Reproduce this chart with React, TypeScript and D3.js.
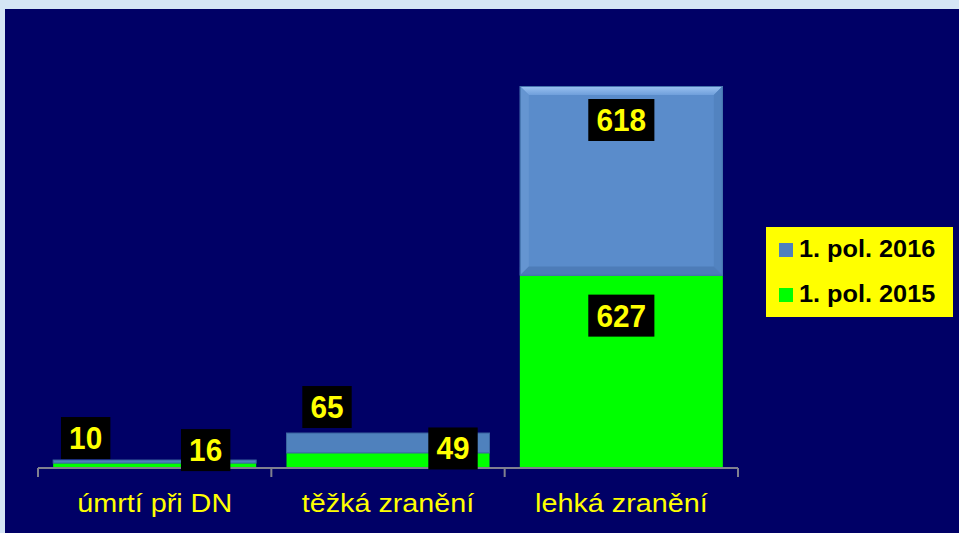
import React, { useEffect, useRef } from 'react';
import * as d3 from 'd3';

// Categories and series
const categories = ['úmrtí při DN', 'těžká zranění', 'lehká zranění'];
const seriesNames = ['1. pol. 2015', '1. pol. 2016'];
const values2015 = [16, 49, 627];
const values2016 = [10, 65, 618];

// manual label nudges (dx, dy from segment top / bar centre), as placed on the slide
const labelNudge2015 = [[51, -13], [65, -4.5], [0, 40]];
const labelNudge2016 = [[-69, -22], [-61, -26], [0, 34]];

const App = () => {
    const ref = useRef(null);

    useEffect(() => {
        document.body.style.margin = '0';
        const el = ref.current;
        if (!el) return;
        d3.select(el).selectAll('*').remove();

        const W = 959, H = 533;
        const font = '"Liberation Sans", Arial, sans-serif';
        const svg = d3.select(el).append('svg')
            .attr('width', W).attr('height', H)
            .style('display', 'block');

        const defs = svg.append('defs');
        const topGrad = defs.append('linearGradient').attr('id', 'bevTop')
            .attr('x1', '0%').attr('x2', '0%').attr('y1', '0%').attr('y2', '100%');
        topGrad.append('stop').attr('offset', '0%').attr('stop-color', '#9cc3f2');
        topGrad.append('stop').attr('offset', '100%').attr('stop-color', '#6f9fdb');

        // outer light frame + navy panel
        svg.append('rect').attr('width', W).attr('height', H).attr('fill', '#d5e5f5');
        svg.append('rect').attr('x', 5).attr('y', 9).attr('width', W - 5).attr('height', H - 9)
            .attr('fill', '#000066');

        const x = d3.scaleBand()
            .domain(categories)
            .range([38, 738])
            .paddingInner(0.13)
            .paddingOuter(0.065);

        const y = d3.scaleLinear()
            .domain([0, 1400])
            .range([468, 468 - 1400 * (382 / 1245)]);

        const rows = categories.map((c, i) => ({ cat: c, '1. pol. 2015': values2015[i], '1. pol. 2016': values2016[i] }));
        const stacked = d3.stack().keys(seriesNames)(rows);

        const colors = { '1. pol. 2015': '#00ff00', '1. pol. 2016': '#4f81bd' };
        const bw = x.bandwidth();

        // 2015 (green, bottom)
        svg.append('g').selectAll('rect')
            .data(stacked[0]).enter().append('rect')
            .attr('x', d => x(d.data.cat))
            .attr('y', d => y(d[1]))
            .attr('width', bw)
            .attr('height', d => y(d[0]) - y(d[1]))
            .attr('fill', colors['1. pol. 2015']);

        // 2016 (blue, top) with bevel on tall segments
        const blue = svg.append('g');
        stacked[1].forEach(d => {
            const x0 = x(d.data.cat), y0 = y(d[1]), h = y(d[0]) - y(d[1]);
            const g = blue.append('g');
            if (h > 40) {
                const b = 9;
                g.append('rect').attr('x', x0).attr('y', y0).attr('width', bw).attr('height', h)
                    .attr('fill', '#5a8ccb');
                const path = pts => 'M' + pts.map(p => p.join(',')).join('L') + 'Z';
                g.append('path').attr('d', path([[x0, y0], [x0 + bw, y0], [x0 + bw - b, y0 + b], [x0 + b, y0 + b]]))
                    .attr('fill', 'url(#bevTop)');
                g.append('path').attr('d', path([[x0, y0], [x0 + b, y0 + b], [x0 + b, y0 + h - b], [x0, y0 + h]]))
                    .attr('fill', '#6595d1');
                g.append('path').attr('d', path([[x0 + bw, y0], [x0 + bw, y0 + h], [x0 + bw - b, y0 + h - b], [x0 + bw - b, y0 + b]]))
                    .attr('fill', '#5283c0');
                g.append('path').attr('d', path([[x0, y0 + h], [x0 + b, y0 + h - b], [x0 + bw - b, y0 + h - b], [x0 + bw, y0 + h]]))
                    .attr('fill', '#4d7cb8');
                g.append('rect').attr('x', x0 + 0.5).attr('y', y0 + 0.5).attr('width', bw - 1).attr('height', h - 1)
                    .attr('fill', 'none').attr('stroke', '#4573ad').attr('stroke-width', 1);
            } else {
                g.append('rect').attr('x', x0).attr('y', y0).attr('width', bw).attr('height', h)
                    .attr('fill', colors['1. pol. 2016'])
                    .attr('stroke', '#3b64a0').attr('stroke-width', 1);
            }
        });

        // category axis
        const step = x.step();
        const ticks = categories.map(c => x(c) - step * x.paddingInner() / 2).concat([x.range()[1]]);
        const axis = svg.append('g');
        axis.append('line').attr('x1', 38).attr('x2', 738).attr('y1', 468).attr('y2', 468)
            .attr('stroke', '#80808f').attr('stroke-width', 2);
        axis.selectAll('.tk').data(ticks).enter().append('line')
            .attr('x1', d => d).attr('x2', d => d).attr('y1', 468).attr('y2', 477)
            .attr('stroke', '#80808f').attr('stroke-width', 2);
        axis.selectAll('text').data(categories).enter().append('text')
            .attr('transform', d => `translate(${x(d) + bw / 2},512) scale(1.15,1)`)
            .attr('text-anchor', 'middle')
            .attr('fill', '#ffff00')
            .style('font-family', font)
            .style('font-size', '25px')
            .text(d => d);

        // data labels
        const labels = [];
        stacked[0].forEach((d, i) => labels.push({ v: values2015[i], cx: x(d.data.cat) + bw / 2 + labelNudge2015[i][0], cy: y(d[1]) + labelNudge2015[i][1] }));
        stacked[1].forEach((d, i) => labels.push({ v: values2016[i], cx: x(d.data.cat) + bw / 2 + labelNudge2016[i][0], cy: y(d[1]) + labelNudge2016[i][1] }));
        const lg = svg.append('g');
        labels.forEach(l => {
            const s = String(l.v);
            const w = s.length * 16.7 + 16;
            lg.append('rect').attr('x', l.cx - w / 2).attr('y', l.cy - 21).attr('width', w).attr('height', 42)
                .attr('fill', '#000000');
            lg.append('text')
                .attr('transform', `translate(${l.cx},${l.cy + 11}) scale(0.96,1)`)
                .attr('text-anchor', 'middle')
                .attr('fill', '#ffff00')
                .style('font-family', font)
                .style('font-weight', 'bold')
                .style('font-size', '31px')
                .text(s);
        });

        // legend
        const leg = svg.append('g');
        leg.append('rect').attr('x', 766).attr('y', 227).attr('width', 187).attr('height', 90).attr('fill', '#ffff00');
        const legItems = [seriesNames[1], seriesNames[0]];
        legItems.forEach((name, i) => {
            const yy = 243 + i * 45;
            leg.append('rect').attr('x', 779).attr('y', yy).attr('width', 14).attr('height', 14)
                .attr('fill', colors[name]);
            leg.append('text')
                .attr('transform', `translate(799,${yy + 14}) scale(1.1,1)`)
                .attr('fill', '#000000')
                .style('font-family', font)
                .style('font-weight', 'bold')
                .style('font-size', '23px')
                .text(name);
        });
    }, []);

    return <div ref={ref} />;
};

export default App;
